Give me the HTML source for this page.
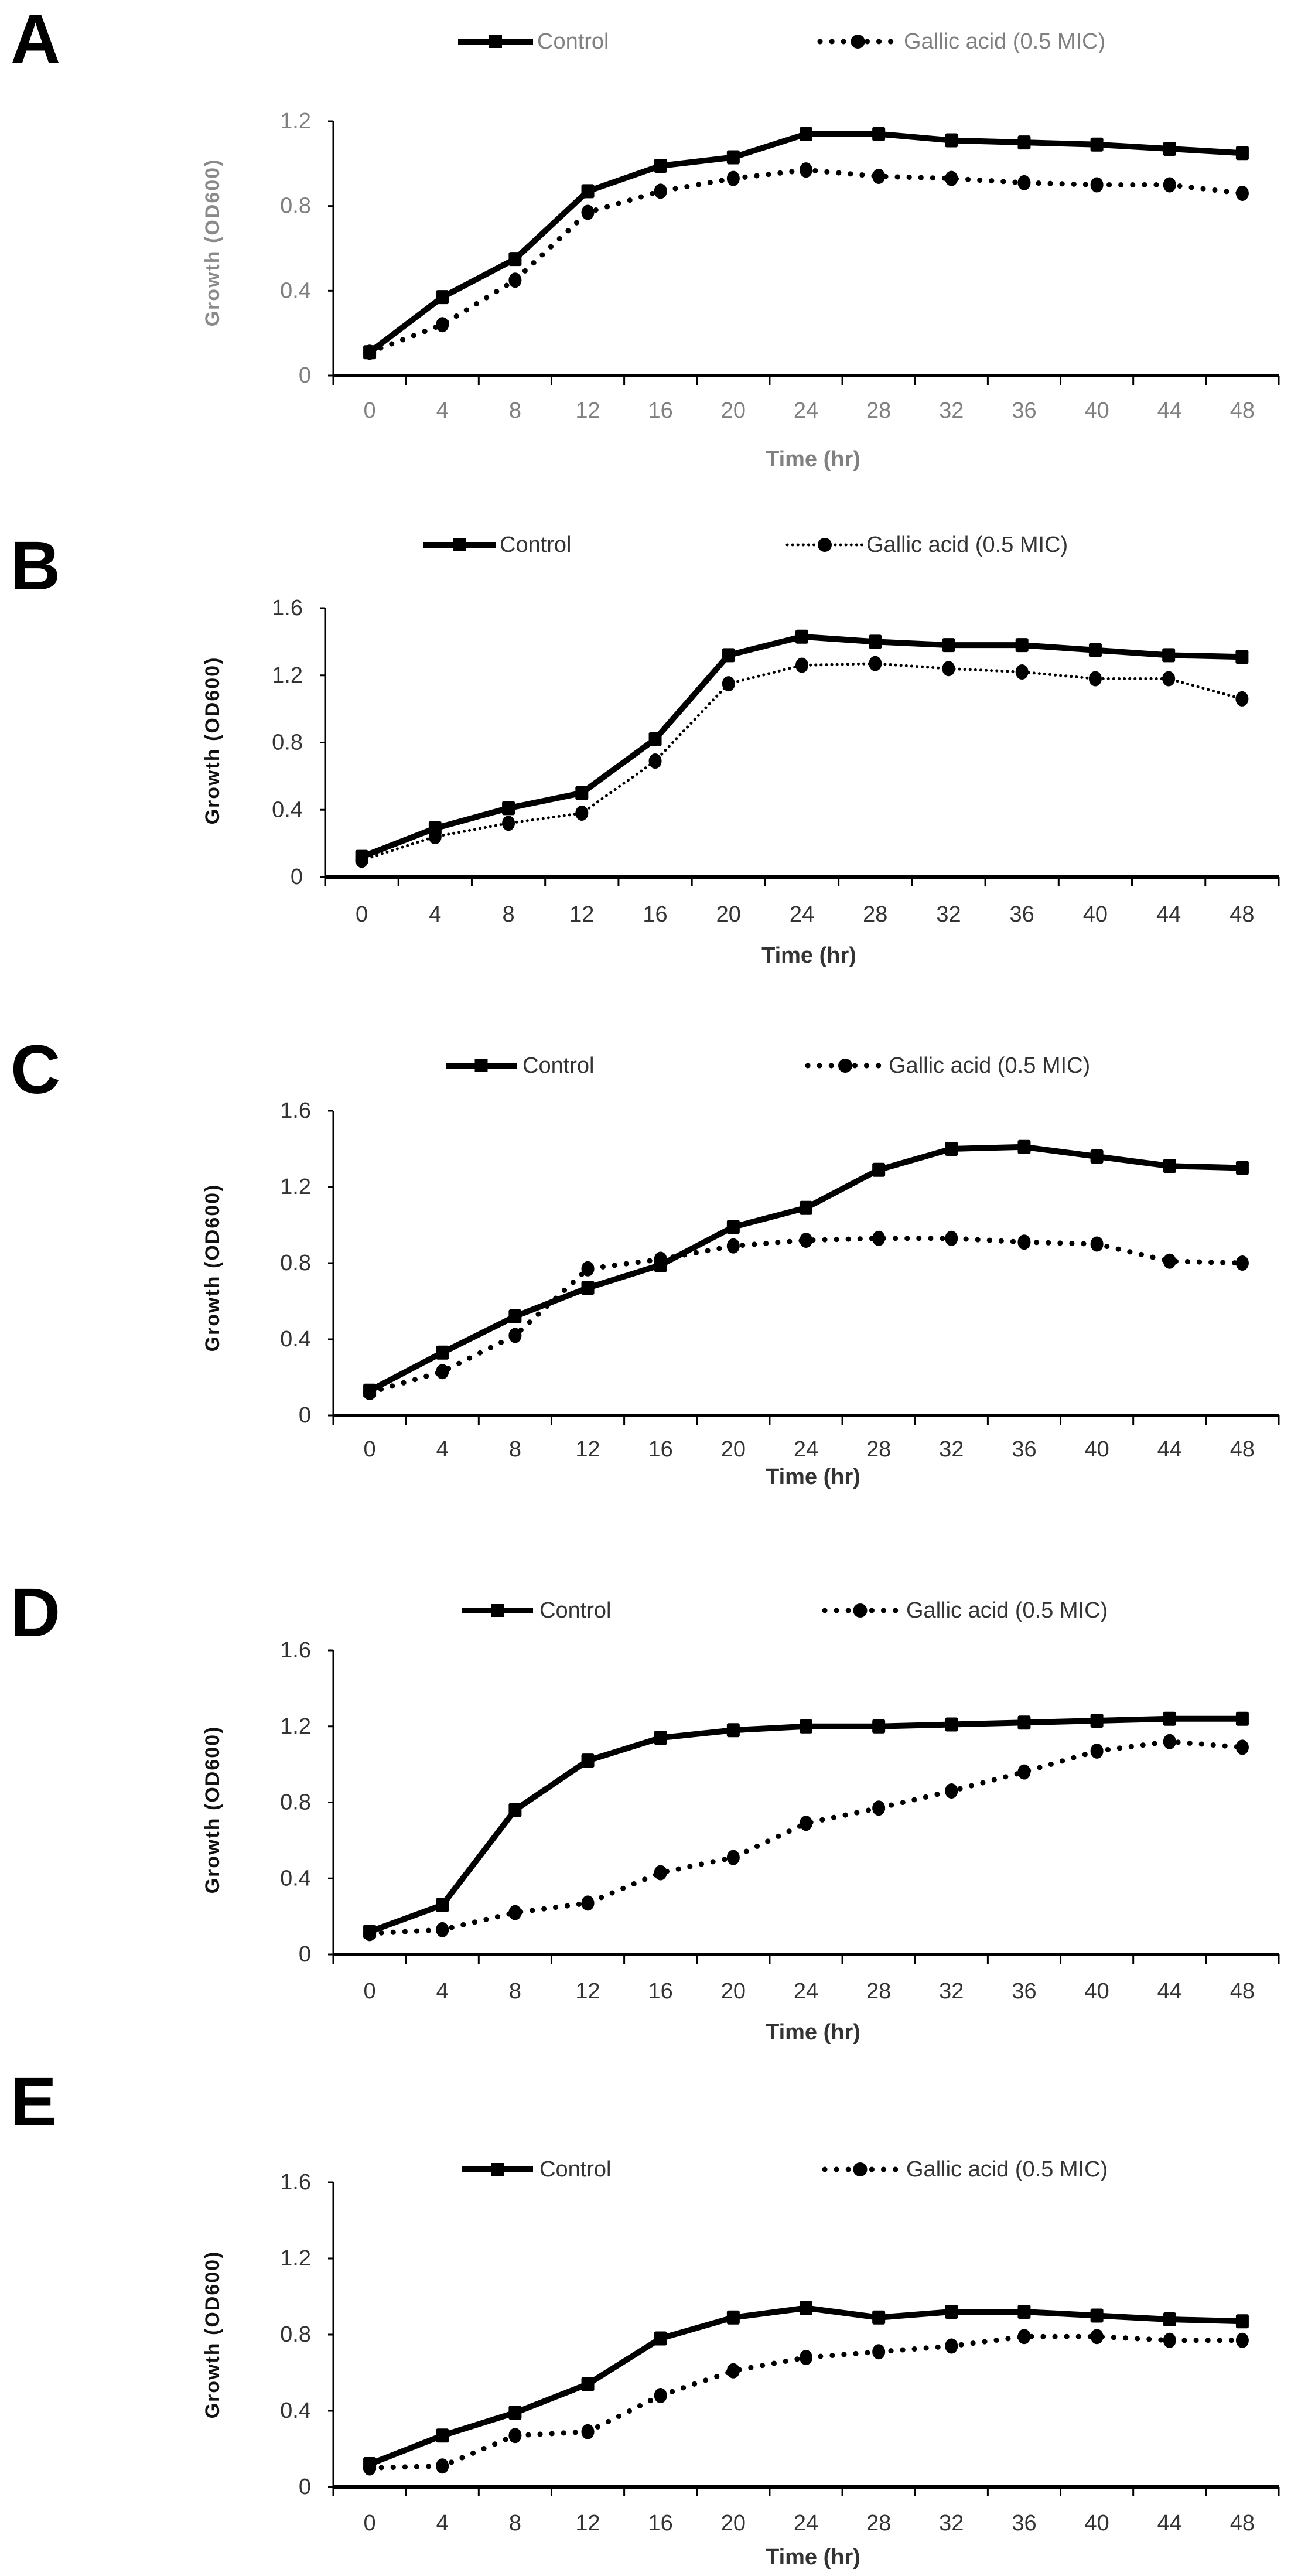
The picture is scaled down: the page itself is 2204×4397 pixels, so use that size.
<!DOCTYPE html>
<html><head><meta charset="utf-8">
<style>
html,body{margin:0;padding:0;background:#fff;}
svg{display:block;}
</style></head>
<body>
<svg id="s" xmlns="http://www.w3.org/2000/svg" width="2204" height="4397" viewBox="0 0 2204 4397"></svg>
<script>
const S=document.getElementById('s');
let h='';
const panels=[
{L:'A',lc:67,legY:71,cl:[782,910],ct:917,gd:[1400,1529],gt:1543,ax:569,end:2183,yT:207,y0:641,vmax:1.2,xl:701,tm:784,yc:414,gray:true,fine:false,
c:[.11,.37,.55,.87,.99,1.03,1.14,1.14,1.11,1.10,1.09,1.07,1.05],
g:[.11,.24,.45,.77,.87,.93,.97,.94,.93,.91,.90,.90,.86]},
{L:'B',lc:966,legY:930,cl:[722,846],ct:853,gd:[1344,1472],gt:1479,ax:555,end:2183,yT:1038,y0:1497,vmax:1.6,xl:1561,tm:1631,yc:1264,gray:false,fine:true,
c:[.12,.29,.41,.50,.82,1.32,1.43,1.40,1.38,1.38,1.35,1.32,1.31],
g:[.10,.24,.32,.38,.69,1.15,1.26,1.27,1.24,1.22,1.18,1.18,1.06]},
{L:'C',lc:1826,legY:1819,cl:[761,882],ct:892,gd:[1379,1507],gt:1517,ax:569,end:2183,yT:1896,y0:2416,vmax:1.6,xl:2474,tm:2521,yc:2164,gray:false,fine:false,
c:[.13,.33,.52,.67,.79,.99,1.09,1.29,1.40,1.41,1.36,1.31,1.30],
g:[.12,.23,.42,.77,.82,.89,.92,.93,.93,.91,.90,.81,.80]},
{L:'D',lc:2753,legY:2749,cl:[789,910],ct:921,gd:[1408,1529],gt:1547,ax:569,end:2183,yT:2817,y0:3336,vmax:1.6,xl:3399,tm:3469,yc:3089,gray:false,fine:false,
c:[.12,.26,.76,1.02,1.14,1.18,1.20,1.20,1.21,1.22,1.23,1.24,1.24],
g:[.11,.13,.22,.27,.43,.51,.69,.77,.86,.96,1.07,1.12,1.09]},
{L:'E',lc:3588,legY:3703,cl:[789,910],ct:921,gd:[1408,1529],gt:1547,ax:569,end:2183,yT:3725,y0:4245,vmax:1.6,xl:4307,tm:4365,yc:3985,gray:false,fine:false,
c:[.12,.27,.39,.54,.78,.89,.94,.89,.92,.92,.90,.88,.87],
g:[.10,.11,.27,.29,.48,.61,.68,.71,.74,.79,.79,.77,.77]}
];
const NF='font-family="Liberation Sans Narrow, Liberation Sans, sans-serif"';
panels.forEach(p=>{
  const tc=p.gray?'#808080':'#333';
  const lc=p.gray?'#8a8a8a':'#111';
  h+=`<text x="18" y="${p.lc}" dominant-baseline="central" font-family="Liberation Sans, sans-serif" font-weight="bold" font-size="118">${p.L}</text>`;
  // legend
  h+=`<line x1="${p.cl[0]}" y1="${p.legY}" x2="${p.cl[1]}" y2="${p.legY}" stroke="#000" stroke-width="10"/>`;
  const lm=(p.cl[0]+p.cl[1])/2;
  h+=`<rect x="${lm-11}" y="${p.legY-11}" width="22" height="22" fill="#000"/>`;
  h+=`<text x="${p.ct}" y="${p.legY}" dominant-baseline="central" ${NF} font-size="38" fill="${tc}">Control</text>`;
  const gd=p.gd,gm=(gd[0]+gd[1])/2;
  h+=`<line x1="${gd[0]}" y1="${p.legY}" x2="${gd[1]}" y2="${p.legY}" stroke="#000" stroke-width="${p.fine?5:9}" stroke-linecap="round" stroke-dasharray="${p.fine?'0.1 9':'0.1 20'}"/>`;
  h+=`<circle cx="${gm}" cy="${p.legY}" r="12" fill="#000"/>`;
  h+=`<text x="${p.gt}" y="${p.legY}" dominant-baseline="central" ${NF} font-size="38" fill="${tc}">Gallic acid (0.5 MIC)</text>`;
  // axes
  const iv=(p.end-p.ax)/13;
  const X=i=>p.ax+iv*(i+0.5);
  const Y=v=>p.y0-(v/p.vmax)*(p.y0-p.yT);
  h+=`<line x1="${p.ax}" y1="${p.yT}" x2="${p.ax}" y2="${p.y0}" stroke="#000" stroke-width="3"/>`;
  h+=`<line x1="${p.ax-1}" y1="${p.y0}" x2="${p.end}" y2="${p.y0}" stroke="#000" stroke-width="6"/>`;
  for(let i=0;i<=13;i++){const x=p.ax+iv*i;h+=`<line x1="${x}" y1="${p.y0}" x2="${x}" y2="${p.y0+16}" stroke="#000" stroke-width="3"/>`;}
  const steps=Math.round(p.vmax/0.4);
  for(let k=0;k<=steps;k++){const v=k*0.4,y=Y(v);
    h+=`<line x1="${p.ax-9}" y1="${y}" x2="${p.ax}" y2="${y}" stroke="#000" stroke-width="3"/>`;
    h+=`<text x="${p.ax-38}" y="${y}" text-anchor="end" dominant-baseline="central" ${NF} font-size="38" fill="${tc}">${k==0?'0':v.toFixed(1)}</text>`;}
  for(let i=0;i<13;i++){h+=`<text x="${X(i)}" y="${p.xl}" text-anchor="middle" dominant-baseline="central" ${NF} font-size="38" fill="${tc}">${i*4}</text>`;}
  h+=`<text x="${(p.ax+p.end)/2+12}" y="${p.tm}" text-anchor="middle" dominant-baseline="central" ${NF} font-weight="bold" font-size="38" fill="${tc}">Time (hr)</text>`;
  h+=`<text transform="translate(363 ${p.yc}) rotate(-90)" text-anchor="middle" dominant-baseline="central" font-family="Liberation Sans, sans-serif" font-weight="bold" font-size="34" letter-spacing="2" fill="${lc}">Growth (OD600)</text>`;
  // series
  const gp=p.g.map((v,i)=>`${X(i)},${Y(v)}`).join(' ');
  h+=`<polyline points="${gp}" fill="none" stroke="#000" stroke-width="${p.fine?5:9}" stroke-linecap="round" stroke-dasharray="${p.fine?'0.1 9':'0.1 20'}"/>`;
  p.g.forEach((v,i)=>{h+=`<ellipse cx="${X(i)}" cy="${Y(v)}" rx="11" ry="13" fill="#000"/>`;});
  const cp=p.c.map((v,i)=>`${X(i)},${Y(v)}`).join(' ');
  h+=`<polyline points="${cp}" fill="none" stroke="#000" stroke-width="10" stroke-linejoin="round"/>`;
  p.c.forEach((v,i)=>{h+=`<rect x="${X(i)-11}" y="${Y(v)-12}" width="22" height="24" rx="3" fill="#000"/>`;});
});
S.innerHTML=h;
</script>
</body></html>
